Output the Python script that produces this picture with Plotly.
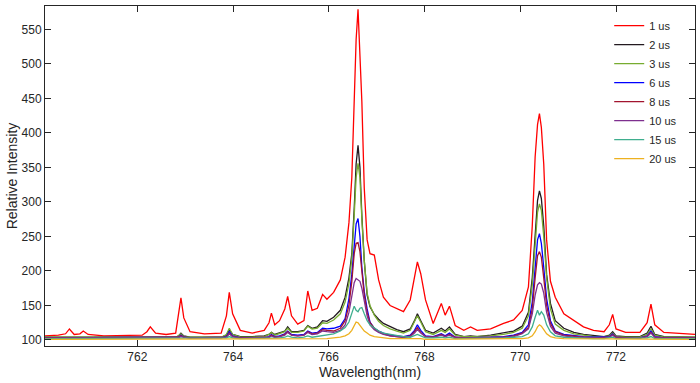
import plotly.graph_objects as go

wavelength = [
    760.07, 760.35, 760.50, 760.58, 760.68, 760.80, 760.87, 760.97, 761.30, 761.70,
    762.10, 762.20, 762.27, 762.38, 762.60, 762.80, 762.86, 762.91, 762.97, 763.10,
    763.40, 763.75, 763.86, 763.92, 763.99, 764.15, 764.40, 764.65, 764.75, 764.80,
    764.87, 764.97, 765.08, 765.14, 765.22, 765.35, 765.48, 765.56, 765.65, 765.76,
    765.87, 765.96, 766.10, 766.24, 766.34, 766.42, 766.48, 766.53, 766.57, 766.61,
    766.65, 766.69, 766.74, 766.80, 766.86, 766.95, 767.04, 767.14, 767.28, 767.42,
    767.56, 767.70, 767.79, 767.85, 767.92, 768.02, 768.18, 768.35, 768.43, 768.52,
    768.64, 768.82, 768.96, 769.10, 769.38, 769.65, 769.86, 770.04, 770.17, 770.25,
    770.31, 770.36, 770.40, 770.44, 770.49, 770.55, 770.63, 770.73, 770.91, 771.12,
    771.32, 771.53, 771.75, 771.86, 771.93, 772.00, 772.20, 772.50, 772.65, 772.73,
    772.81, 773.00, 773.30, 773.65]

us1 = [106, 107, 109, 116, 108, 109, 113, 108, 106, 107,
       107, 112, 119, 110, 108, 110, 135, 161, 132, 112,
       109, 110, 135, 169, 138, 114, 110, 114, 125, 139,
       122, 128, 145, 163, 135, 123, 128, 171, 143, 146,
       166, 159, 169, 187, 220, 270, 335, 445, 535, 579,
       520, 445, 320, 245, 225, 223, 187, 162, 150, 145,
       141, 158, 190, 213, 196, 158, 124, 153, 136, 149,
       121, 114, 119, 114, 116, 124, 129, 143, 177, 265,
       365, 412, 428, 408, 355, 245, 185, 162, 138, 128,
       119, 114, 112, 122, 137, 116, 111, 111, 125, 152,
       122, 111, 110, 108]

us2 = [104, 104, 104, 105, 104, 104, 104, 104, 104, 104,
       104, 104, 105, 104, 104, 104, 106, 110, 106, 104,
       104, 104, 107, 115, 108, 105, 105, 106, 108, 111,
       108, 110, 113, 119, 112, 112, 114, 121, 117, 119,
       128, 127, 133, 143, 162, 190, 225, 290, 355, 382,
       350, 280, 215, 165, 148, 137, 130, 124, 119, 115,
       112, 116, 128, 138, 128, 114, 110, 117, 113, 119,
       108, 105, 106, 105, 107, 110, 113, 120, 140, 190,
       260, 302, 316, 305, 265, 195, 153, 128, 117, 111,
       108, 106, 105, 107, 112, 106, 105, 105, 110, 120,
       108, 105, 105, 104]

us3 = [104, 104, 104, 104, 104, 104, 104, 104, 104, 104,
       104, 104, 104, 104, 104, 104, 106, 109, 105, 104,
       104, 104, 108, 117, 108, 104, 104, 105, 108, 111,
       107, 109, 112, 117, 111, 111, 113, 120, 116, 117,
       125, 124, 129, 138, 155, 182, 218, 280, 335, 356,
       335, 275, 215, 168, 150, 136, 127, 121, 116, 113,
       110, 114, 128, 135, 126, 112, 108, 114, 111, 116,
       107, 105, 105, 105, 106, 108, 111, 117, 135, 180,
       245, 285, 297, 288, 250, 190, 145, 123, 114, 109,
       107, 105, 105, 106, 110, 105, 104, 104, 108, 116,
       107, 104, 104, 104]

us6 = [103, 103, 103, 103, 103, 103, 103, 103, 103, 103,
       103, 103, 103, 103, 103, 103, 104, 107, 104, 103,
       103, 103, 105, 112, 106, 103, 103, 103, 105, 108,
       105, 106, 109, 113, 108, 107, 108, 113, 110, 111,
       117, 116, 117, 120, 131, 160, 195, 240, 268, 276,
       250, 205, 170, 145, 126, 117, 113, 110, 107, 106,
       105, 107, 114, 122, 114, 106, 105, 109, 106, 110,
       104, 103, 103, 103, 104, 105, 107, 111, 122, 155,
       210, 245, 254, 240, 205, 160, 128, 113, 108, 106,
       105, 104, 104, 105, 109, 104, 103, 103, 106, 113,
       105, 103, 103, 103]

us8 = [103, 103, 103, 103, 103, 103, 103, 103, 103, 103,
       103, 103, 103, 103, 103, 103, 104, 106, 104, 103,
       103, 103, 104, 110, 105, 103, 103, 103, 104, 107,
       104, 105, 108, 112, 107, 106, 107, 112, 109, 110,
       115, 114, 113, 117, 128, 150, 185, 225, 240, 241,
       228, 200, 165, 140, 125, 117, 112, 109, 106, 105,
       104, 106, 112, 118, 111, 105, 104, 108, 105, 108,
       104, 103, 103, 103, 103, 104, 106, 110, 118, 145,
       190, 222, 228, 220, 190, 150, 124, 112, 107, 105,
       104, 103, 103, 104, 108, 104, 103, 103, 105, 111,
       104, 103, 103, 103]

us10 = [103, 103, 103, 103, 103, 103, 103, 103, 103, 103,
        103, 103, 103, 103, 103, 103, 104, 105, 104, 103,
        103, 103, 104, 109, 105, 103, 103, 103, 104, 106,
        104, 105, 107, 111, 107, 106, 107, 111, 108, 109,
        113, 112, 111, 114, 122, 140, 165, 183, 189, 187,
        185, 175, 155, 135, 122, 115, 111, 108, 106, 105,
        104, 105, 110, 115, 110, 105, 104, 107, 105, 107,
        103, 103, 103, 103, 103, 104, 105, 109, 116, 138,
        165, 180, 183, 181, 168, 140, 120, 110, 106, 104,
        104, 103, 103, 104, 107, 103, 103, 103, 105, 110,
        104, 103, 103, 103]

us15 = [102, 102, 102, 102, 102, 102, 102, 102, 102, 102,
        102, 102, 102, 102, 102, 102, 102, 103, 102, 102,
        102, 102, 103, 105, 103, 102, 102, 102, 102, 103,
        102, 103, 104, 106, 104, 103, 104, 106, 104, 105,
        106, 107, 109, 113, 118, 126, 138, 149, 143, 141,
        146, 147, 138, 128, 122, 117, 113, 110, 108, 106,
        105, 104, 106, 108, 106, 103, 103, 104, 103, 104,
        102, 102, 102, 102, 102, 103, 104, 105, 109, 119,
        133, 143, 136, 141, 136, 122, 112, 106, 104, 103,
        102, 102, 102, 103, 104, 102, 102, 102, 103, 105,
        102, 102, 102, 102]

us20 = [101, 101, 101, 101, 101, 101, 101, 101, 101, 101,
        101, 101, 101, 101, 101, 101, 101, 102, 101, 101,
        101, 101, 101, 102, 101, 101, 101, 101, 101, 102,
        101, 101, 102, 102, 101, 101, 101, 102, 101, 102,
        102, 102, 103, 104, 106, 109, 114, 121, 126, 125,
        121, 117, 113, 110, 107, 105, 104, 103, 102, 102,
        102, 102, 102, 103, 102, 101, 101, 102, 101, 102,
        101, 101, 101, 101, 101, 101, 102, 102, 103, 106,
        112, 119, 122, 120, 115, 109, 105, 103, 102, 102,
        101, 101, 101, 101, 102, 101, 101, 101, 101, 102,
        101, 101, 101, 101]

series_names = ["1 us", "2 us", "3 us", "6 us", "8 us", "10 us", "15 us", "20 us"]
series_values = [us1, us2, us3, us6, us8, us10, us15, us20]
series_colors = ["#FF0000", "#231A20", "#77AC30", "#0000FF",
                 "#A2142F", "#7E2F8E", "#3FAE8E", "#EDB120"]

y_ticks = [100, 150, 200, 250, 300, 350, 400, 450, 500, 550]
x_ticks = [762, 764, 766, 768, 770, 772]

fig = go.Figure()
for name, vals, col in zip(series_names, series_values, series_colors):
    fig.add_trace(go.Scatter(x=wavelength, y=vals, mode="lines", name=name,
                             line=dict(color=col, width=1.3)))

axis_common = dict(showline=True, linecolor="#262626", linewidth=1, mirror="ticks",
                   ticks="inside", ticklen=6, tickcolor="#262626", tickwidth=1,
                   showgrid=False, zeroline=False,
                   tickfont=dict(family="Liberation Sans, Arial", size=12, color="#262626"),
                   title_font=dict(family="Liberation Sans, Arial", size=14, color="#262626"))

fig.update_layout(
    width=700, height=383,
    margin=dict(l=45, r=5, t=6, b=37),
    paper_bgcolor="white", plot_bgcolor="white",
    xaxis=dict(range=[760.07, 773.65], tickvals=x_ticks, ticktext=[str(t) for t in x_ticks],
               title=dict(text="Wavelength(nm)", standoff=2), **axis_common),
    yaxis=dict(range=[91.3, 583.8], tickvals=y_ticks, ticktext=[str(t) for t in y_ticks],
               title=dict(text="Relative Intensity", standoff=0), **axis_common),
    legend=dict(x=0.868, y=0.985, xanchor="left", yanchor="top",
                bgcolor="rgba(255,255,255,0)", borderwidth=0,
                font=dict(family="Liberation Sans, Arial", size=11, color="#262626")),
    showlegend=True,
)

fig.write_html("out.html", config={"displayModeBar": False},
               post_script="document.body.style.margin='0';document.body.style.overflow='hidden';")
